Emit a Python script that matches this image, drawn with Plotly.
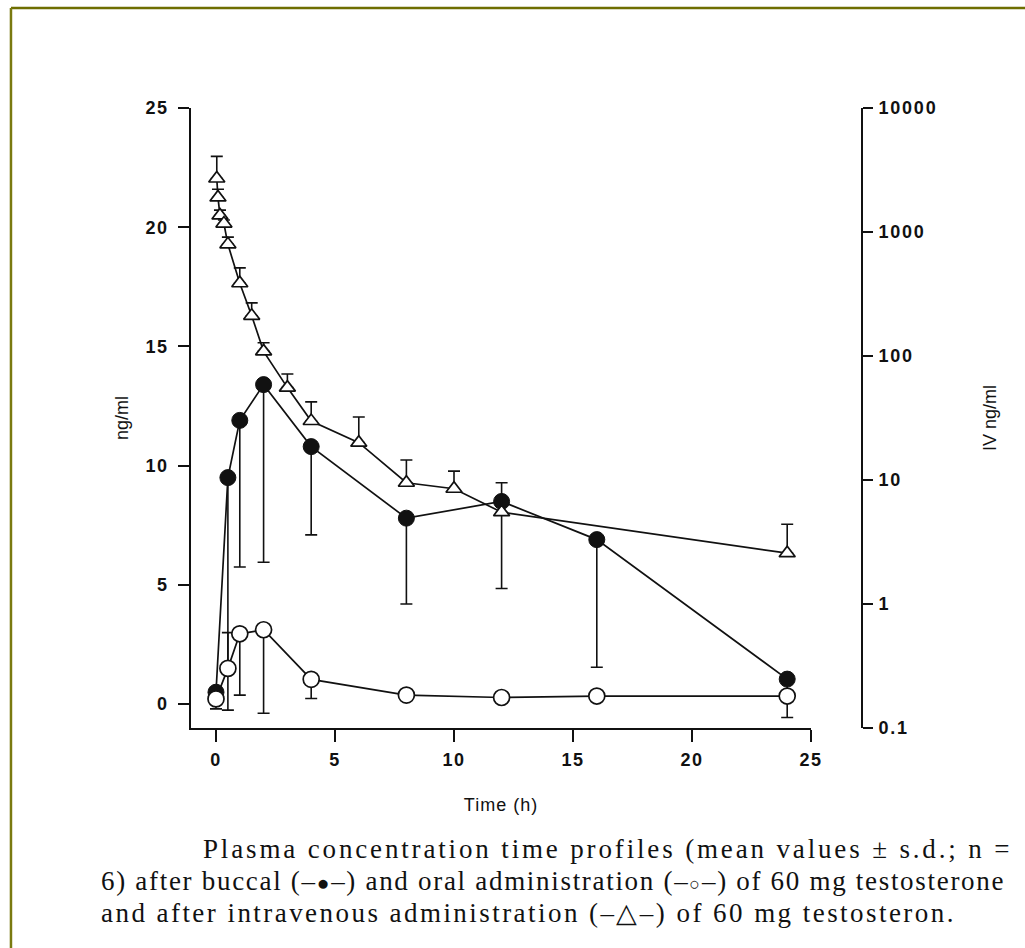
import plotly.graph_objects as go

# ---------------- data ----------------
time_buccal = [0, 0.5, 1, 2, 4, 8, 12, 16, 24]
buccal_mean = [0.5, 9.5, 11.9, 13.4, 10.8, 7.8, 8.5, 6.9, 1.05]
buccal_sd = [0.7, 9.75, 6.15, 7.45, 3.7, 3.6, 3.65, 5.35, 0.6]

time_oral = [0, 0.5, 1, 2, 4, 8, 12, 16, 24]
oral_mean = [0.22, 1.5, 2.95, 3.12, 1.04, 0.38, 0.28, 0.34, 0.34]
oral_sd_up = [0, 1.5, 0, 0, 0, 0, 0, 0, 0]
oral_sd_down = [0, 0, 2.57, 3.5, 0.8, 0, 0, 0, 0.9]

time_iv = [0.033, 0.083, 0.167, 0.333, 0.5, 1, 1.5, 2, 3, 4, 6, 8, 10, 12, 24]
iv_mean = [2700, 1900, 1360, 1170, 795, 386, 211, 109, 55.6, 29.9, 20.0, 9.5, 8.5, 5.5, 2.57]
iv_sd = [1370, 310, 140, 80, 115, 128, 57, 19, 15.9, 12.8, 12.2, 5.0, 3.3, 4.0, 1.83]

x_ticks = [0, 5, 10, 15, 20, 25]
x_tick_text = ["0", "5", "10", "15", "20", "25"]
y_ticks = [0, 5, 10, 15, 20, 25]
y_tick_text = ["0", "5", "10", "15", "20", "25"]
iv_ticks = [0.1, 1, 10, 100, 1000, 10000]
iv_tick_text = ["0.1", "1", "10", "100", "1000", "10000"]

caption_lines = [
    "Plasma concentration time profiles (mean values \u00b1 s.d.; n =",
    "6) after buccal (\u2013<span style='font-size:21px'>\u25cf</span>\u2013) and oral administration "
    "(\u2013<span style='font-size:18px'>\u25cb</span>\u2013) of 60 mg testosterone",
    "and after intravenous administration (\u2013\u25b3\u2013) of 60 mg testosteron.",
]
caption_spacing = ["2.85px", "1.7px", "2.45px"]


def spaced(labels, sp):
    return [f"<span style='letter-spacing:{sp}'>{t}</span>" for t in labels]


# ---------------- figure ----------------
BLACK = "#111111"
fig = go.Figure()

fig.add_trace(go.Scatter(
    x=time_buccal, y=buccal_mean, mode="lines+markers", name="buccal",
    line=dict(color=BLACK, width=1.7),
    marker=dict(symbol="circle", size=16, color=BLACK, line=dict(color=BLACK, width=1)),
    error_y=dict(type="data", symmetric=False, array=[0] * len(buccal_sd),
                 arrayminus=buccal_sd, color=BLACK, thickness=1.6, width=6),
    xaxis="x", yaxis="y",
))

fig.add_trace(go.Scatter(
    x=time_oral, y=oral_mean, mode="lines+markers", name="oral",
    line=dict(color=BLACK, width=1.7),
    marker=dict(symbol="circle", size=16, color="white", line=dict(color=BLACK, width=1.7)),
    error_y=dict(type="data", symmetric=False, array=oral_sd_up,
                 arrayminus=oral_sd_down, color=BLACK, thickness=1.6, width=6),
    xaxis="x", yaxis="y",
))

fig.add_trace(go.Scatter(
    x=time_iv, y=iv_mean, mode="lines+markers", name="IV",
    line=dict(color=BLACK, width=1.7),
    marker=dict(symbol="triangle-up", size=14, color="white", line=dict(color=BLACK, width=1.7)),
    error_y=dict(type="data", symmetric=False, array=iv_sd,
                 arrayminus=[0] * len(iv_sd), color=BLACK, thickness=1.6, width=6),
    xaxis="x", yaxis="y2",
))

tick_font = dict(family="Liberation Sans, Arial, sans-serif", size=18, color=BLACK, weight=700)
title_font = dict(family="Liberation Sans, Arial, sans-serif", size=18, color=BLACK)

fig.update_layout(
    width=1025, height=948,
    margin=dict(l=191, r=163, t=108, b=220, autoexpand=False),
    paper_bgcolor="white", plot_bgcolor="white",
    showlegend=False,
    xaxis=dict(
        domain=[0, 0.924], range=[-1.05, 25], anchor="y",
        tickvals=x_ticks, ticktext=spaced(x_tick_text, "1.5px"),
        ticks="outside", ticklen=12, tickwidth=1.6, tickcolor=BLACK,
        showline=True, linecolor=BLACK, linewidth=1.7, showgrid=False, zeroline=False,
        tickfont=tick_font, ticklabelstandoff=3,
        title=dict(text="<span style='letter-spacing:1px'>Time (h)</span>",
                   font=title_font, standoff=29),
    ),
    yaxis=dict(
        domain=[0, 1], range=[-1, 25], anchor="x",
        tickvals=y_ticks, ticktext=spaced(y_tick_text, "1.5px"),
        ticks="outside", ticklen=11, tickwidth=1.6, tickcolor=BLACK,
        showline=True, linecolor=BLACK, linewidth=1.7, showgrid=False, zeroline=False,
        tickfont=tick_font, ticklabelstandoff=6,
        title=dict(text="ng/ml", font=title_font, standoff=12),
    ),
    yaxis2=dict(
        type="log", range=[-1, 4], overlaying="y", side="right", anchor="free", position=1.0,
        tickvals=iv_ticks, ticktext=spaced(iv_tick_text, "1.8px"),
        ticks="outside", ticklen=10, tickwidth=1.6, tickcolor=BLACK,
        showline=True, linecolor=BLACK, linewidth=1.7, showgrid=False, zeroline=False,
        tickfont=tick_font, ticklabelstandoff=2,
        title=dict(text="IV ng/ml", font=title_font, standoff=46),
    ),
)

# olive frame (top and left edges visible)
fig.add_shape(type="line", xref="paper", yref="paper", x0=-0.2683, x1=1.3, y0=1.1613, y1=1.1613,
              line=dict(color="#6e6e00", width=2.5))
fig.add_shape(type="line", xref="paper", yref="paper", x0=-0.2683, x1=-0.2683, y0=1.1613, y1=-0.4,
              line=dict(color="#7a7a10", width=2.5))

cap_font = dict(family="Liberation Serif, Times New Roman, serif", size=27, color=BLACK)
cap_pos = [(1.2265, -0.195, "right"), (-0.1371, -0.247, "left"), (-0.1371, -0.2984, "left")]
for line, sp, (px, py, anc) in zip(caption_lines, caption_spacing, cap_pos):
    fig.add_annotation(text=f"<span style='letter-spacing:{sp}'>{line}</span>",
                       xref="paper", yref="paper", x=px, y=py,
                       xanchor=anc, yanchor="middle", showarrow=False, font=cap_font)

fig.write_html("out.html", config={"displayModeBar": False},
               post_script="document.body.style.margin='0';")
